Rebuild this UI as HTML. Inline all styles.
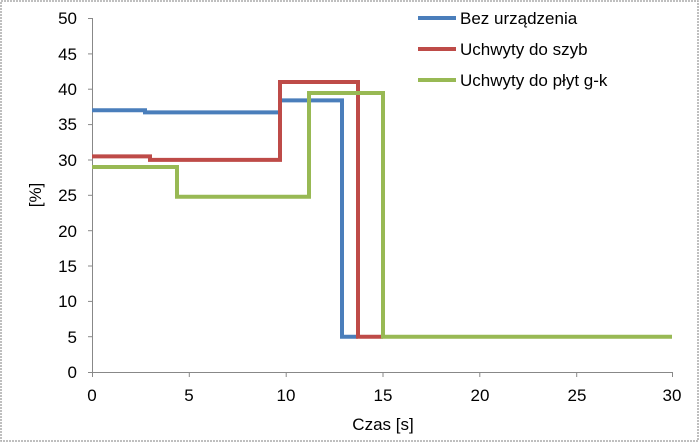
<!DOCTYPE html>
<html><head><style>body{margin:0;background:#fff}svg{display:block;font-family:"Liberation Sans",Arial,sans-serif}</style></head>
<body>
<svg width="700" height="443" viewBox="0 0 700 443">
<rect x="1" y="1" width="697" height="440" fill="#fff" stroke="#aaa" stroke-width="1.5" stroke-dasharray="2,1"/>
<g stroke="#888" stroke-width="1">
<line x1="92.5" y1="18" x2="92.5" y2="372"/>
<line x1="92" y1="372.5" x2="673" y2="372.5"/>
<line x1="88" y1="18.5" x2="92" y2="18.5"/><line x1="88" y1="53.9" x2="92" y2="53.9"/><line x1="88" y1="89.2" x2="92" y2="89.2"/><line x1="88" y1="124.6" x2="92" y2="124.6"/><line x1="88" y1="160" x2="92" y2="160"/><line x1="88" y1="195.3" x2="92" y2="195.3"/><line x1="88" y1="230.7" x2="92" y2="230.7"/><line x1="88" y1="266" x2="92" y2="266"/><line x1="88" y1="301.4" x2="92" y2="301.4"/><line x1="88" y1="336.7" x2="92" y2="336.7"/><line x1="88" y1="372.5" x2="92" y2="372.5"/>
<line x1="92.5" y1="372" x2="92.5" y2="377"/><line x1="189.3" y1="372" x2="189.3" y2="377"/><line x1="286.2" y1="372" x2="286.2" y2="377"/><line x1="383" y1="372" x2="383" y2="377"/><line x1="479.8" y1="372" x2="479.8" y2="377"/><line x1="576.7" y1="372" x2="576.7" y2="377"/><line x1="672.5" y1="372" x2="672.5" y2="377"/>
</g>
<g font-size="17" fill="#000" text-anchor="end">
<text x="77" y="24">50</text><text x="77" y="60">45</text><text x="77" y="95">40</text><text x="77" y="130">35</text><text x="77" y="166">30</text><text x="77" y="201">25</text><text x="77" y="237">20</text><text x="77" y="272">15</text><text x="77" y="307">10</text><text x="77" y="343">5</text><text x="77" y="378">0</text>
</g>
<g font-size="17" fill="#000" text-anchor="middle">
<text x="92" y="401">0</text><text x="189" y="401">5</text><text x="286" y="401">10</text><text x="383" y="401">15</text><text x="480" y="401">20</text><text x="577" y="401">25</text><text x="672" y="401">30</text>
<text x="383" y="430">Czas [s]</text>
<text transform="translate(41,195) rotate(-90)">[%]</text>
</g>
<g fill="none" stroke-width="4" stroke-linejoin="miter" stroke-linecap="butt">
<path stroke="#4a7ebb" d="M92 110.3H145V112.4H280V100.4H342V336.7H358"/>
<path stroke="#be4b48" d="M92 156.4H150V159.9H280V82H358V336.7H383"/>
<path stroke="#98b954" d="M92 167H177V196.7H309V93H383V336.7H672"/>
</g>
<g stroke-width="4"><line x1="418" y1="18" x2="456" y2="18" stroke="#4a7ebb"/><line x1="418" y1="49" x2="456" y2="49" stroke="#be4b48"/><line x1="418" y1="80" x2="456" y2="80" stroke="#98b954"/></g>
<g font-size="17" fill="#000"><text x="460" y="24">Bez urządzenia</text><text x="460" y="55">Uchwyty do szyb</text><text x="460" y="86">Uchwyty do płyt g-k</text></g>
</svg>
</body></html>
